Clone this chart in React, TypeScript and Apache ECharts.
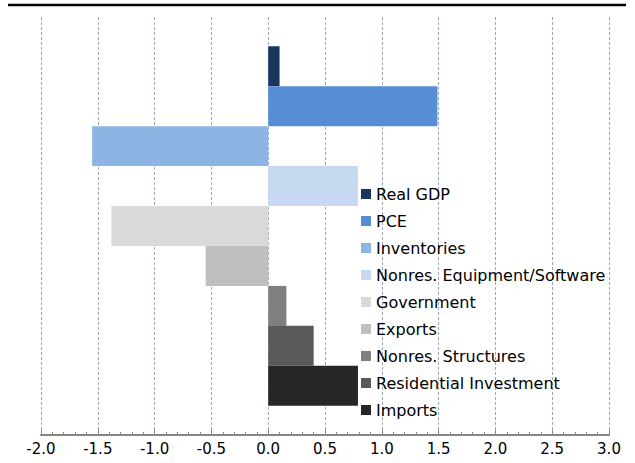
import React, { useEffect, useRef } from "react";
import * as echarts from "echarts";

const seriesNames = [
  "Real GDP",
  "PCE",
  "Inventories",
  "Nonres. Equipment/Software",
  "Government",
  "Exports",
  "Nonres. Structures",
  "Residential Investment",
  "Imports",
];
const seriesValues = [0.1, 1.49, -1.55, 0.79, -1.38, -0.55, 0.16, 0.4, 0.79];
const seriesColors = [
  "#17375E",
  "#558ED5",
  "#8EB4E3",
  "#C6D9F1",
  "#D9D9D9",
  "#BFBFBF",
  "#7F7F7F",
  "#595959",
  "#262626",
];
const categories = [""];
const xMin = -2;
const xMax = 3;
const xInterval = 0.5;

const FONT = "'DejaVu Sans', 'Liberation Sans', Arial, sans-serif";

export default function App() {
  const ref = useRef<HTMLDivElement>(null);
  useEffect(() => {
    if (!ref.current) return;
    const chart = echarts.init(ref.current, null, { renderer: "svg" });
    chart.setOption({
      animation: false,
      backgroundColor: "#ffffff",
      grid: { left: 41, right: 26, top: 17, bottom: 28, containLabel: false },
      legend: {
        orient: "vertical",
        left: 356,
        top: 181,
        itemWidth: 10,
        itemHeight: 10,
        itemGap: 11,
        icon: "rect",
        data: seriesNames,
        textStyle: { fontFamily: FONT, fontSize: 16, color: "#000", lineHeight: 16 },
      },
      xAxis: {
        type: "value",
        min: xMin,
        max: xMax,
        interval: xInterval,
        axisLine: { show: true, lineStyle: { color: "#868686", width: 2 } },
        axisTick: { show: true, inside: true, length: 5, lineStyle: { color: "#868686" } },
        minorTick: { show: true, splitNumber: 5, length: 3, lineStyle: { color: "#868686" } },
        axisLabel: {
          fontFamily: FONT,
          fontSize: 15,
          color: "#000",
          margin: 6,
          formatter: (v: number) => v.toFixed(1),
        },
        splitLine: {
          show: true,
          lineStyle: { color: "#9AA9C0", type: [3, 2], width: 1 },
        },
      },
      yAxis: {
        type: "category",
        data: categories,
        inverse: true,
        axisLine: { show: false },
        axisTick: { show: false },
        axisLabel: { show: false },
        splitLine: { show: false },
      },
      series: seriesNames.map((name, i) => ({
        name,
        type: "bar",
        data: [seriesValues[i]],
        barGap: "0%",
        barCategoryGap: "14%",
        itemStyle: { color: seriesColors[i] },
      })),
      graphic: [
        {
          type: "line",
          shape: { x1: 8, y1: 5, x2: 626, y2: 5 },
          style: { stroke: "#000", lineWidth: 2.5 },
        },
      ],
    });
    return () => chart.dispose();
  }, []);
  return (
    <div
      ref={ref}
      style={{ position: "fixed", left: 0, top: 0, width: 635, height: 463 }}
    />
  );
}
